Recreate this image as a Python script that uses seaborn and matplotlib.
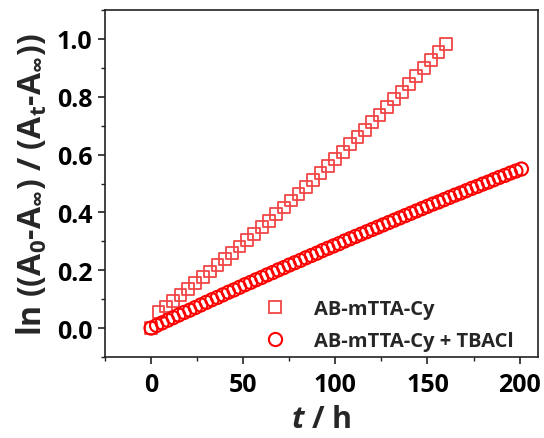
import numpy as np
import pandas as pd
import matplotlib
matplotlib.use("Agg")
import matplotlib.pyplot as plt
from matplotlib.lines import Line2D
from matplotlib.ticker import MultipleLocator, FormatStrFormatter
import seaborn as sns

# Kinetics: ln((A0-Ainf)/(At-Ainf)) versus time
t_free = [0, 4, 8, 12, 16, 20, 24, 28, 32, 36, 40, 44, 48, 52, 56, 60, 64, 68,
          72, 76, 80, 84, 88, 92, 96, 100, 104, 108, 112, 116, 120, 124, 128,
          132, 136, 140, 144, 148, 152, 156, 160]
y_free = [0.000, 0.055, 0.075, 0.094, 0.114, 0.134, 0.155, 0.176, 0.196, 0.218,
          0.239, 0.260, 0.282, 0.304, 0.326, 0.349, 0.371, 0.394, 0.417, 0.441,
          0.464, 0.488, 0.512, 0.536, 0.561, 0.585, 0.610, 0.636, 0.661, 0.686,
          0.712, 0.738, 0.764, 0.791, 0.817, 0.844, 0.871, 0.899, 0.926, 0.954,
          0.982]

t_tbacl = [0, 3, 6, 9, 12, 15, 18, 21, 24, 27, 30, 33, 36, 39, 42, 45, 48, 51,
           54, 57, 60, 63, 66, 69, 72, 75, 78, 81, 84, 87, 90, 93, 96, 99, 102,
           105, 108, 111, 114, 117, 120, 123, 126, 129, 132, 135, 138, 141, 144,
           147, 150, 153, 156, 159, 162, 165, 168, 171, 174, 177, 180, 183, 186,
           189, 192, 195, 198, 201]
y_tbacl = [0.000, 0.009, 0.018, 0.027, 0.036, 0.045, 0.054, 0.062, 0.071, 0.080,
           0.089, 0.098, 0.106, 0.115, 0.124, 0.132, 0.141, 0.150, 0.158, 0.167,
           0.175, 0.184, 0.192, 0.201, 0.209, 0.218, 0.226, 0.234, 0.243, 0.251,
           0.259, 0.268, 0.276, 0.284, 0.292, 0.301, 0.309, 0.317, 0.325, 0.333,
           0.341, 0.349, 0.357, 0.365, 0.373, 0.381, 0.389, 0.397, 0.405, 0.413,
           0.421, 0.429, 0.436, 0.444, 0.452, 0.460, 0.467, 0.475, 0.483, 0.490,
           0.498, 0.505, 0.513, 0.521, 0.528, 0.536, 0.543, 0.550]

labels = ["AB-mTTA-Cy", "AB-mTTA-Cy + TBACl"]
colors = ["#f24646", "#ff0000"]
markers = ["s", "o"]

sns.set_theme(style="ticks")
FONT = "Open Sans"
plt.rcParams["font.family"] = [FONT, "DejaVu Sans"]
plt.rcParams["font.weight"] = "bold"
plt.rcParams["mathtext.fontset"] = "custom"
plt.rcParams["mathtext.rm"] = f"{FONT}:bold"
plt.rcParams["mathtext.bf"] = f"{FONT}:bold"
plt.rcParams["mathtext.it"] = f"{FONT}:bold:italic"

fig = plt.figure(figsize=(5.44, 4.39), dpi=100)
ax = fig.add_axes([105 / 544, 81 / 439, 433 / 544, 347 / 439])

series = [(t_free, y_free), (t_tbacl, y_tbacl)]
sizes = [72, 90]
edge_w = [1.3, 1.5]
for (tx, ty), col, mk, sz, lw in zip(series, colors, markers, sizes, edge_w):
    df = pd.DataFrame({"t": tx, "v": ty})
    n0 = len(ax.collections)
    sns.scatterplot(data=df, x="t", y="v", marker=mk, s=sz, ax=ax, legend=False,
                    color=col, linewidth=lw)
    for coll in ax.collections[n0:]:
        coll.set_facecolor("none")
        coll.set_edgecolor(col)
        coll.set_linewidth(lw)

ax.set_xlim(-25, 210)
ax.set_ylim(-0.1, 1.1)
ax.xaxis.set_major_locator(MultipleLocator(50))
ax.xaxis.set_minor_locator(MultipleLocator(25))
ax.yaxis.set_major_locator(MultipleLocator(0.2))
ax.yaxis.set_minor_locator(MultipleLocator(0.1))
ax.yaxis.set_major_formatter(FormatStrFormatter("%.1f"))

for s in ax.spines.values():
    s.set_visible(True)
    s.set_linewidth(1.2)
    s.set_color("#222222")

ax.tick_params(which="major", direction="out", length=5, width=1.2,
               labelsize=18, colors="#222222", labelcolor="black")
ax.tick_params(axis="x", which="major", pad=6)
ax.tick_params(axis="y", which="major", pad=4)
ax.tick_params(which="minor", direction="out", length=3, width=1.0,
               colors="#222222")
ax.tick_params(top=False, right=False, which="both")
for lbl in ax.get_xticklabels() + ax.get_yticklabels():
    lbl.set_fontweight("bold")

ax.set_xlabel(r"$t$ / h", fontsize=22, fontweight="bold", labelpad=5)
ax.set_ylabel(r"ln ((A$_0$-A$_\infty$) / (A$_\mathrm{t}$-A$_\infty$))",
              fontsize=23, fontweight="bold", labelpad=5)

handles = [Line2D([], [], linestyle="none", marker=m, markersize=s ** 0.5,
                  markerfacecolor="none", markeredgecolor=c, markeredgewidth=lw)
           for m, c, s, lw in zip(markers, colors, sizes, edge_w)]
leg = ax.legend(handles, labels, loc="lower right", bbox_to_anchor=(0.985, -0.036),
                frameon=False, prop={"size": 14.5, "weight": "bold"},
                handletextpad=0.9, labelspacing=0.6)

fig.savefig("out.png", dpi=100)
